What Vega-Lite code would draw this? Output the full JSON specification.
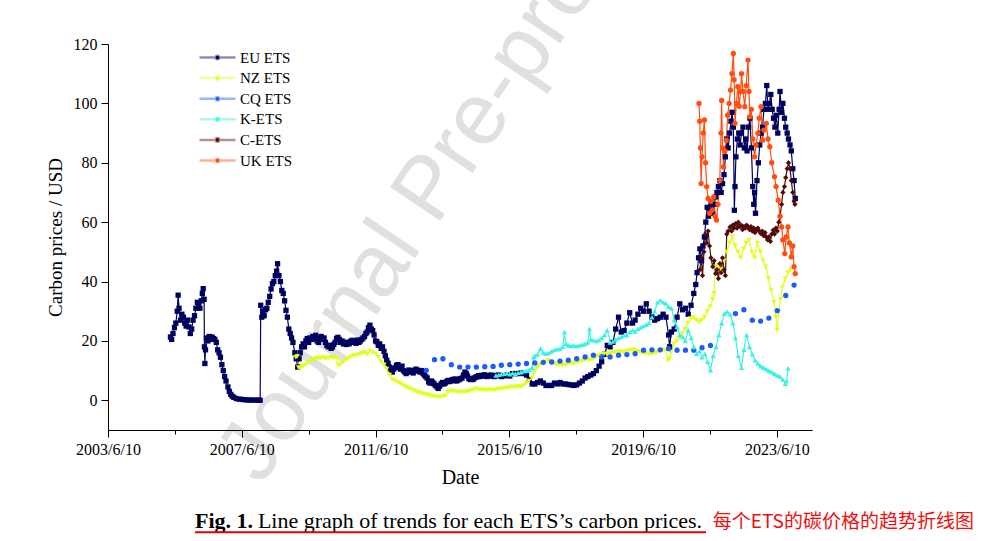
{
"$schema": "https://vega.github.io/schema/vega-lite/v6.json",
"width": 704,
"height": 386,
"autosize": {"type": "none"},
"padding": {"left": 108, "top": 44, "right": 183, "bottom": 111},
"background": "white",
"config": {"view": {"stroke": null}, "font": "Liberation Serif"},
"data": {"values": [
{"s":"EU ETS","d":"2005-04-22","v":21.3},{"s":"EU ETS","d":"2005-05-05","v":20.5},{"s":"EU ETS","d":"2005-05-20","v":22.5},{"s":"EU ETS","d":"2005-06-05","v":24.5},{"s":"EU ETS","d":"2005-06-20","v":26},{"s":"EU ETS","d":"2005-07-05","v":30},{"s":"EU ETS","d":"2005-07-15","v":35.4},{"s":"EU ETS","d":"2005-07-25","v":31},{"s":"EU ETS","d":"2005-08-10","v":27},{"s":"EU ETS","d":"2005-08-25","v":29},{"s":"EU ETS","d":"2005-09-10","v":28},{"s":"EU ETS","d":"2005-09-25","v":26},{"s":"EU ETS","d":"2005-10-10","v":25},{"s":"EU ETS","d":"2005-10-25","v":27},{"s":"EU ETS","d":"2005-11-10","v":24.7},{"s":"EU ETS","d":"2005-11-25","v":22.5},{"s":"EU ETS","d":"2005-12-10","v":24},{"s":"EU ETS","d":"2005-12-25","v":27},{"s":"EU ETS","d":"2006-01-10","v":28.5},{"s":"EU ETS","d":"2006-01-25","v":31},{"s":"EU ETS","d":"2006-02-10","v":33},{"s":"EU ETS","d":"2006-02-25","v":32},{"s":"EU ETS","d":"2006-03-10","v":31},{"s":"EU ETS","d":"2006-03-25","v":33.5},{"s":"EU ETS","d":"2006-04-05","v":36},{"s":"EU ETS","d":"2006-04-15","v":37.6},{"s":"EU ETS","d":"2006-04-25","v":34},{"s":"EU ETS","d":"2006-04-28","v":18},{"s":"EU ETS","d":"2006-05-03","v":12.4},{"s":"EU ETS","d":"2006-05-10","v":17},{"s":"EU ETS","d":"2006-05-20","v":21},{"s":"EU ETS","d":"2006-06-05","v":20},{"s":"EU ETS","d":"2006-06-20","v":21.5},{"s":"EU ETS","d":"2006-07-05","v":20.5},{"s":"EU ETS","d":"2006-07-20","v":21.3},{"s":"EU ETS","d":"2006-08-05","v":20.8},{"s":"EU ETS","d":"2006-08-20","v":20.5},{"s":"EU ETS","d":"2006-09-05","v":19.5},{"s":"EU ETS","d":"2006-09-20","v":17},{"s":"EU ETS","d":"2006-10-05","v":16},{"s":"EU ETS","d":"2006-10-20","v":14.5},{"s":"EU ETS","d":"2006-11-05","v":12},{"s":"EU ETS","d":"2006-11-20","v":10},{"s":"EU ETS","d":"2006-12-05","v":8},{"s":"EU ETS","d":"2006-12-20","v":6.5},{"s":"EU ETS","d":"2007-01-10","v":4.5},{"s":"EU ETS","d":"2007-01-25","v":3},{"s":"EU ETS","d":"2007-02-10","v":2},{"s":"EU ETS","d":"2007-02-25","v":1.4},{"s":"EU ETS","d":"2007-03-15","v":1},{"s":"EU ETS","d":"2007-04-10","v":0.6},{"s":"EU ETS","d":"2007-05-10","v":0.4},{"s":"EU ETS","d":"2007-06-10","v":0.3},{"s":"EU ETS","d":"2007-07-10","v":0.2},{"s":"EU ETS","d":"2007-08-10","v":0.1},{"s":"EU ETS","d":"2007-09-10","v":0.1},{"s":"EU ETS","d":"2007-10-10","v":0.08},{"s":"EU ETS","d":"2007-11-10","v":0.06},{"s":"EU ETS","d":"2007-12-10","v":0.05},{"s":"EU ETS","d":"2007-12-28","v":0.03},
{"s":"EU ETS","d":"2008-01-03","v":32},{"s":"EU ETS","d":"2008-01-15","v":28},{"s":"EU ETS","d":"2008-01-28","v":30},{"s":"EU ETS","d":"2008-02-10","v":28.5},{"s":"EU ETS","d":"2008-02-25","v":30.5},{"s":"EU ETS","d":"2008-03-10","v":31},{"s":"EU ETS","d":"2008-03-25","v":33},{"s":"EU ETS","d":"2008-04-10","v":35},{"s":"EU ETS","d":"2008-04-25","v":37.5},{"s":"EU ETS","d":"2008-05-10","v":39.3},{"s":"EU ETS","d":"2008-05-25","v":40},{"s":"EU ETS","d":"2008-06-10","v":42},{"s":"EU ETS","d":"2008-06-25","v":43.5},{"s":"EU ETS","d":"2008-07-05","v":46},{"s":"EU ETS","d":"2008-07-20","v":42},{"s":"EU ETS","d":"2008-08-05","v":40},{"s":"EU ETS","d":"2008-08-20","v":37},{"s":"EU ETS","d":"2008-09-05","v":36},{"s":"EU ETS","d":"2008-09-20","v":33.5},{"s":"EU ETS","d":"2008-10-05","v":30.3},{"s":"EU ETS","d":"2008-10-20","v":28},{"s":"EU ETS","d":"2008-11-05","v":24},{"s":"EU ETS","d":"2008-11-20","v":22.5},{"s":"EU ETS","d":"2008-12-05","v":21},{"s":"EU ETS","d":"2008-12-20","v":19.5},{"s":"EU ETS","d":"2009-01-10","v":16},{"s":"EU ETS","d":"2009-01-25","v":14},{"s":"EU ETS","d":"2009-02-10","v":11.2},{"s":"EU ETS","d":"2009-02-25","v":14},{"s":"EU ETS","d":"2009-03-10","v":16},{"s":"EU ETS","d":"2009-03-25","v":18},{"s":"EU ETS","d":"2009-04-10","v":19},{"s":"EU ETS","d":"2009-04-25","v":18},{"s":"EU ETS","d":"2009-05-10","v":20},{"s":"EU ETS","d":"2009-05-25","v":20.8},{"s":"EU ETS","d":"2009-06-10","v":19.5},{"s":"EU ETS","d":"2009-06-25","v":21},{"s":"EU ETS","d":"2009-07-10","v":20.5},{"s":"EU ETS","d":"2009-07-25","v":21.5},{"s":"EU ETS","d":"2009-08-10","v":20.8},{"s":"EU ETS","d":"2009-08-25","v":21.9},{"s":"EU ETS","d":"2009-09-10","v":20},{"s":"EU ETS","d":"2009-09-25","v":19.5},{"s":"EU ETS","d":"2009-10-10","v":21},{"s":"EU ETS","d":"2009-10-25","v":21.5},{"s":"EU ETS","d":"2009-11-10","v":20.5},{"s":"EU ETS","d":"2009-11-25","v":21},{"s":"EU ETS","d":"2009-12-10","v":19.5},{"s":"EU ETS","d":"2009-12-25","v":18.5},
{"s":"EU ETS","d":"2010-01-10","v":18},{"s":"EU ETS","d":"2010-01-25","v":18.5},{"s":"EU ETS","d":"2010-02-10","v":17.5},{"s":"EU ETS","d":"2010-02-25","v":18},{"s":"EU ETS","d":"2010-03-10","v":18.8},{"s":"EU ETS","d":"2010-03-25","v":19.5},{"s":"EU ETS","d":"2010-04-10","v":20.8},{"s":"EU ETS","d":"2010-04-25","v":21.2},{"s":"EU ETS","d":"2010-05-10","v":20.5},{"s":"EU ETS","d":"2010-05-25","v":19.5},{"s":"EU ETS","d":"2010-06-10","v":20},{"s":"EU ETS","d":"2010-06-25","v":19},{"s":"EU ETS","d":"2010-07-10","v":19.5},{"s":"EU ETS","d":"2010-07-25","v":18.8},{"s":"EU ETS","d":"2010-08-10","v":19.5},{"s":"EU ETS","d":"2010-08-25","v":19},{"s":"EU ETS","d":"2010-09-10","v":19.8},{"s":"EU ETS","d":"2010-09-25","v":20.2},{"s":"EU ETS","d":"2010-10-10","v":19.5},{"s":"EU ETS","d":"2010-10-25","v":20},{"s":"EU ETS","d":"2010-11-10","v":19.2},{"s":"EU ETS","d":"2010-11-25","v":20.3},{"s":"EU ETS","d":"2010-12-10","v":19.5},{"s":"EU ETS","d":"2010-12-25","v":20},{"s":"EU ETS","d":"2011-01-10","v":20.5},{"s":"EU ETS","d":"2011-01-25","v":21},{"s":"EU ETS","d":"2011-02-10","v":21.5},{"s":"EU ETS","d":"2011-02-25","v":22.5},{"s":"EU ETS","d":"2011-03-10","v":23},{"s":"EU ETS","d":"2011-03-25","v":24.5},{"s":"EU ETS","d":"2011-04-10","v":25.3},{"s":"EU ETS","d":"2011-04-25","v":24},{"s":"EU ETS","d":"2011-05-10","v":23.5},{"s":"EU ETS","d":"2011-05-25","v":22},{"s":"EU ETS","d":"2011-06-10","v":20},{"s":"EU ETS","d":"2011-06-25","v":19.7},{"s":"EU ETS","d":"2011-07-10","v":18.5},{"s":"EU ETS","d":"2011-07-25","v":19},{"s":"EU ETS","d":"2011-08-10","v":17.5},{"s":"EU ETS","d":"2011-08-25","v":18},{"s":"EU ETS","d":"2011-09-10","v":16.5},{"s":"EU ETS","d":"2011-09-25","v":15},{"s":"EU ETS","d":"2011-10-10","v":13.5},{"s":"EU ETS","d":"2011-10-25","v":12.5},{"s":"EU ETS","d":"2011-11-10","v":11.2},{"s":"EU ETS","d":"2011-11-25","v":10.5},{"s":"EU ETS","d":"2011-12-10","v":9.5},{"s":"EU ETS","d":"2011-12-25","v":10.5},
{"s":"EU ETS","d":"2012-01-10","v":11},{"s":"EU ETS","d":"2012-01-25","v":11.8},{"s":"EU ETS","d":"2012-02-10","v":12},{"s":"EU ETS","d":"2012-02-25","v":11},{"s":"EU ETS","d":"2012-03-10","v":10.5},{"s":"EU ETS","d":"2012-03-25","v":11.5},{"s":"EU ETS","d":"2012-04-10","v":10},{"s":"EU ETS","d":"2012-04-25","v":9.5},{"s":"EU ETS","d":"2012-05-10","v":9},{"s":"EU ETS","d":"2012-05-25","v":9.8},{"s":"EU ETS","d":"2012-06-10","v":10.2},{"s":"EU ETS","d":"2012-06-25","v":9.5},{"s":"EU ETS","d":"2012-07-10","v":10},{"s":"EU ETS","d":"2012-07-25","v":9.2},{"s":"EU ETS","d":"2012-08-10","v":10.1},{"s":"EU ETS","d":"2012-08-25","v":10.5},{"s":"EU ETS","d":"2012-09-10","v":9.8},{"s":"EU ETS","d":"2012-09-25","v":10.1},{"s":"EU ETS","d":"2012-10-10","v":9.5},{"s":"EU ETS","d":"2012-10-25","v":10},{"s":"EU ETS","d":"2012-11-10","v":9},{"s":"EU ETS","d":"2012-11-25","v":8.5},{"s":"EU ETS","d":"2012-12-10","v":8},{"s":"EU ETS","d":"2012-12-25","v":7.5},{"s":"EU ETS","d":"2013-01-10","v":6.2},{"s":"EU ETS","d":"2013-01-25","v":5.8},{"s":"EU ETS","d":"2013-02-10","v":6.5},{"s":"EU ETS","d":"2013-02-25","v":6},{"s":"EU ETS","d":"2013-03-10","v":5.5},{"s":"EU ETS","d":"2013-03-25","v":5},{"s":"EU ETS","d":"2013-04-10","v":4.5},{"s":"EU ETS","d":"2013-04-25","v":4},{"s":"EU ETS","d":"2013-05-10","v":4.8},{"s":"EU ETS","d":"2013-05-25","v":5.5},{"s":"EU ETS","d":"2013-06-10","v":6},{"s":"EU ETS","d":"2013-06-25","v":5.5},{"s":"EU ETS","d":"2013-07-10","v":5.8},{"s":"EU ETS","d":"2013-07-25","v":6.3},{"s":"EU ETS","d":"2013-08-10","v":6.7},{"s":"EU ETS","d":"2013-08-25","v":6.3},{"s":"EU ETS","d":"2013-09-10","v":6.5},{"s":"EU ETS","d":"2013-09-25","v":7},{"s":"EU ETS","d":"2013-10-10","v":6.7},{"s":"EU ETS","d":"2013-10-25","v":7.2},{"s":"EU ETS","d":"2013-11-10","v":6.5},{"s":"EU ETS","d":"2013-11-25","v":6.8},{"s":"EU ETS","d":"2013-12-10","v":7},{"s":"EU ETS","d":"2013-12-25","v":7.3},
{"s":"EU ETS","d":"2014-01-10","v":7.5},{"s":"EU ETS","d":"2014-01-25","v":8.5},{"s":"EU ETS","d":"2014-02-10","v":9.5},{"s":"EU ETS","d":"2014-02-25","v":9},{"s":"EU ETS","d":"2014-03-10","v":8.2},{"s":"EU ETS","d":"2014-03-25","v":7.3},{"s":"EU ETS","d":"2014-04-10","v":7},{"s":"EU ETS","d":"2014-04-25","v":7.4},{"s":"EU ETS","d":"2014-05-10","v":7},{"s":"EU ETS","d":"2014-05-25","v":7.5},{"s":"EU ETS","d":"2014-06-10","v":7.8},{"s":"EU ETS","d":"2014-06-25","v":8},{"s":"EU ETS","d":"2014-07-10","v":8.3},{"s":"EU ETS","d":"2014-07-25","v":8},{"s":"EU ETS","d":"2014-08-10","v":8.4},{"s":"EU ETS","d":"2014-08-25","v":8.2},{"s":"EU ETS","d":"2014-09-10","v":8.6},{"s":"EU ETS","d":"2014-09-25","v":8.3},{"s":"EU ETS","d":"2014-10-10","v":8},{"s":"EU ETS","d":"2014-10-25","v":8.4},{"s":"EU ETS","d":"2014-11-10","v":8.2},{"s":"EU ETS","d":"2014-11-25","v":8.5},{"s":"EU ETS","d":"2014-12-10","v":8.3},{"s":"EU ETS","d":"2014-12-25","v":8},{"s":"EU ETS","d":"2015-01-10","v":8.2},{"s":"EU ETS","d":"2015-01-25","v":8.4},{"s":"EU ETS","d":"2015-02-15","v":8.5},{"s":"EU ETS","d":"2015-03-15","v":8},{"s":"EU ETS","d":"2015-04-15","v":8.2},{"s":"EU ETS","d":"2015-05-15","v":8.5},{"s":"EU ETS","d":"2015-06-15","v":8.2},{"s":"EU ETS","d":"2015-07-15","v":9},{"s":"EU ETS","d":"2015-08-15","v":9},{"s":"EU ETS","d":"2015-09-15","v":9},{"s":"EU ETS","d":"2015-10-15","v":9.2},{"s":"EU ETS","d":"2015-11-15","v":9},{"s":"EU ETS","d":"2015-12-15","v":8.5},{"s":"EU ETS","d":"2016-01-15","v":7},{"s":"EU ETS","d":"2016-02-15","v":5.5},{"s":"EU ETS","d":"2016-03-15","v":5.5},{"s":"EU ETS","d":"2016-04-15","v":6},{"s":"EU ETS","d":"2016-05-15","v":6.5},{"s":"EU ETS","d":"2016-06-15","v":5.8},{"s":"EU ETS","d":"2016-07-15","v":5},{"s":"EU ETS","d":"2016-08-15","v":5},{"s":"EU ETS","d":"2016-09-15","v":5},{"s":"EU ETS","d":"2016-10-15","v":5.8},{"s":"EU ETS","d":"2016-11-15","v":5.5},{"s":"EU ETS","d":"2016-12-15","v":6},{"s":"EU ETS","d":"2017-01-15","v":5.5},{"s":"EU ETS","d":"2017-02-15","v":5.5},{"s":"EU ETS","d":"2017-03-15","v":5.3},{"s":"EU ETS","d":"2017-04-15","v":5.2},{"s":"EU ETS","d":"2017-05-15","v":5},{"s":"EU ETS","d":"2017-06-15","v":5.2},{"s":"EU ETS","d":"2017-07-15","v":5.8},{"s":"EU ETS","d":"2017-08-15","v":6.5},{"s":"EU ETS","d":"2017-09-15","v":7.5},{"s":"EU ETS","d":"2017-10-15","v":8},{"s":"EU ETS","d":"2017-11-15","v":8.5},{"s":"EU ETS","d":"2017-12-15","v":9},
{"s":"EU ETS","d":"2018-01-15","v":10},{"s":"EU ETS","d":"2018-02-15","v":11.5},{"s":"EU ETS","d":"2018-03-15","v":13},{"s":"EU ETS","d":"2018-04-15","v":15.5},{"s":"EU ETS","d":"2018-05-15","v":18.5},{"s":"EU ETS","d":"2018-06-15","v":18},{"s":"EU ETS","d":"2018-07-15","v":19.5},{"s":"EU ETS","d":"2018-08-15","v":24},{"s":"EU ETS","d":"2018-09-15","v":28},{"s":"EU ETS","d":"2018-10-15","v":23},{"s":"EU ETS","d":"2018-11-15","v":23.5},{"s":"EU ETS","d":"2018-12-15","v":26},{"s":"EU ETS","d":"2019-01-15","v":29.5},{"s":"EU ETS","d":"2019-02-15","v":26},{"s":"EU ETS","d":"2019-03-15","v":27},{"s":"EU ETS","d":"2019-04-15","v":29},{"s":"EU ETS","d":"2019-05-15","v":31},{"s":"EU ETS","d":"2019-06-15","v":30},{"s":"EU ETS","d":"2019-07-15","v":32.5},{"s":"EU ETS","d":"2019-08-15","v":30},{"s":"EU ETS","d":"2019-09-15","v":28},{"s":"EU ETS","d":"2019-10-15","v":27},{"s":"EU ETS","d":"2019-11-15","v":27.5},{"s":"EU ETS","d":"2019-12-15","v":28},{"s":"EU ETS","d":"2020-01-15","v":29},{"s":"EU ETS","d":"2020-02-15","v":28},{"s":"EU ETS","d":"2020-03-15","v":22},{"s":"EU ETS","d":"2020-03-25","v":18},{"s":"EU ETS","d":"2020-04-15","v":23},{"s":"EU ETS","d":"2020-05-15","v":24},{"s":"EU ETS","d":"2020-06-15","v":28},{"s":"EU ETS","d":"2020-07-15","v":32.5},{"s":"EU ETS","d":"2020-08-15","v":30.5},{"s":"EU ETS","d":"2020-09-15","v":31},{"s":"EU ETS","d":"2020-10-15","v":29},{"s":"EU ETS","d":"2020-11-15","v":32},{"s":"EU ETS","d":"2020-12-15","v":36},
{"s":"EU ETS","d":"2021-01-05","v":39},{"s":"EU ETS","d":"2021-01-20","v":43},{"s":"EU ETS","d":"2021-02-05","v":48},{"s":"EU ETS","d":"2021-02-20","v":51},{"s":"EU ETS","d":"2021-03-10","v":47},{"s":"EU ETS","d":"2021-03-25","v":52},{"s":"EU ETS","d":"2021-04-10","v":55},{"s":"EU ETS","d":"2021-04-25","v":60},{"s":"EU ETS","d":"2021-05-10","v":65},{"s":"EU ETS","d":"2021-05-25","v":62},{"s":"EU ETS","d":"2021-06-10","v":64},{"s":"EU ETS","d":"2021-06-25","v":66},{"s":"EU ETS","d":"2021-07-10","v":63},{"s":"EU ETS","d":"2021-07-25","v":66},{"s":"EU ETS","d":"2021-08-10","v":68.5},{"s":"EU ETS","d":"2021-08-25","v":70},{"s":"EU ETS","d":"2021-09-10","v":72},{"s":"EU ETS","d":"2021-09-25","v":74},{"s":"EU ETS","d":"2021-10-10","v":70},{"s":"EU ETS","d":"2021-10-25","v":73},{"s":"EU ETS","d":"2021-11-10","v":76},{"s":"EU ETS","d":"2021-11-25","v":82},{"s":"EU ETS","d":"2021-12-10","v":88},{"s":"EU ETS","d":"2021-12-25","v":85},{"s":"EU ETS","d":"2022-01-10","v":90},{"s":"EU ETS","d":"2022-01-25","v":94},{"s":"EU ETS","d":"2022-02-05","v":97},{"s":"EU ETS","d":"2022-02-20","v":92},{"s":"EU ETS","d":"2022-03-03","v":64},{"s":"EU ETS","d":"2022-03-10","v":72},{"s":"EU ETS","d":"2022-03-20","v":82},{"s":"EU ETS","d":"2022-04-05","v":88},{"s":"EU ETS","d":"2022-04-20","v":90},{"s":"EU ETS","d":"2022-05-05","v":86},{"s":"EU ETS","d":"2022-05-20","v":90},{"s":"EU ETS","d":"2022-06-05","v":92},{"s":"EU ETS","d":"2022-06-20","v":85},{"s":"EU ETS","d":"2022-07-05","v":88},{"s":"EU ETS","d":"2022-07-20","v":84},{"s":"EU ETS","d":"2022-08-05","v":92},{"s":"EU ETS","d":"2022-08-20","v":95},{"s":"EU ETS","d":"2022-09-05","v":85},{"s":"EU ETS","d":"2022-09-20","v":72},{"s":"EU ETS","d":"2022-10-01","v":66},{"s":"EU ETS","d":"2022-10-10","v":70},{"s":"EU ETS","d":"2022-10-20","v":63},{"s":"EU ETS","d":"2022-11-05","v":74},{"s":"EU ETS","d":"2022-11-20","v":80},{"s":"EU ETS","d":"2022-12-05","v":86},{"s":"EU ETS","d":"2022-12-20","v":90},{"s":"EU ETS","d":"2023-01-05","v":92},{"s":"EU ETS","d":"2023-01-20","v":98},{"s":"EU ETS","d":"2023-02-05","v":100},{"s":"EU ETS","d":"2023-02-20","v":106},{"s":"EU ETS","d":"2023-03-05","v":98},{"s":"EU ETS","d":"2023-03-20","v":100},{"s":"EU ETS","d":"2023-04-05","v":103},{"s":"EU ETS","d":"2023-04-20","v":98},{"s":"EU ETS","d":"2023-05-05","v":95},{"s":"EU ETS","d":"2023-05-20","v":92},{"s":"EU ETS","d":"2023-06-05","v":96},{"s":"EU ETS","d":"2023-06-20","v":90},{"s":"EU ETS","d":"2023-07-05","v":98},{"s":"EU ETS","d":"2023-07-15","v":104},{"s":"EU ETS","d":"2023-08-01","v":97},{"s":"EU ETS","d":"2023-08-15","v":100},{"s":"EU ETS","d":"2023-09-01","v":95},{"s":"EU ETS","d":"2023-09-15","v":92},{"s":"EU ETS","d":"2023-10-01","v":90},{"s":"EU ETS","d":"2023-10-15","v":88},{"s":"EU ETS","d":"2023-11-01","v":86},{"s":"EU ETS","d":"2023-11-15","v":84},{"s":"EU ETS","d":"2023-12-01","v":78},{"s":"EU ETS","d":"2023-12-15","v":74},{"s":"EU ETS","d":"2023-12-28","v":68},
{"s":"NZ ETS","d":"2009-01-20","v":14.5},{"s":"NZ ETS","d":"2009-02-05","v":14.8},{"s":"NZ ETS","d":"2009-02-20","v":11},{"s":"NZ ETS","d":"2009-03-10","v":10.8},{"s":"NZ ETS","d":"2009-04-10","v":11.5},{"s":"NZ ETS","d":"2009-05-10","v":12},{"s":"NZ ETS","d":"2009-06-10","v":12.8},{"s":"NZ ETS","d":"2009-07-10","v":13.5},{"s":"NZ ETS","d":"2009-08-10","v":14},{"s":"NZ ETS","d":"2009-09-10","v":14.2},{"s":"NZ ETS","d":"2009-10-10","v":14},{"s":"NZ ETS","d":"2009-11-10","v":14.4},{"s":"NZ ETS","d":"2009-12-10","v":14},{"s":"NZ ETS","d":"2010-01-10","v":14.2},{"s":"NZ ETS","d":"2010-02-10","v":14.5},{"s":"NZ ETS","d":"2010-03-10","v":14.3},{"s":"NZ ETS","d":"2010-04-10","v":14.2},{"s":"NZ ETS","d":"2010-04-25","v":12},{"s":"NZ ETS","d":"2010-05-10","v":11.8},{"s":"NZ ETS","d":"2010-06-10","v":12.5},{"s":"NZ ETS","d":"2010-07-10","v":13.5},{"s":"NZ ETS","d":"2010-08-10","v":14},{"s":"NZ ETS","d":"2010-09-10","v":14.6},{"s":"NZ ETS","d":"2010-10-10","v":15},{"s":"NZ ETS","d":"2010-11-10","v":15.2},{"s":"NZ ETS","d":"2010-12-10","v":15.5},{"s":"NZ ETS","d":"2011-01-10","v":15.8},{"s":"NZ ETS","d":"2011-02-10","v":16.2},{"s":"NZ ETS","d":"2011-03-10","v":15.5},{"s":"NZ ETS","d":"2011-04-10","v":16.5},{"s":"NZ ETS","d":"2011-05-10","v":16},{"s":"NZ ETS","d":"2011-06-10","v":15.7},{"s":"NZ ETS","d":"2011-07-10","v":14.5},{"s":"NZ ETS","d":"2011-08-10","v":13},{"s":"NZ ETS","d":"2011-09-10","v":12},{"s":"NZ ETS","d":"2011-10-10","v":10.5},{"s":"NZ ETS","d":"2011-11-10","v":8.5},{"s":"NZ ETS","d":"2011-12-10","v":7},{"s":"NZ ETS","d":"2012-01-10","v":6.5},{"s":"NZ ETS","d":"2012-02-10","v":6},{"s":"NZ ETS","d":"2012-03-10","v":5.6},{"s":"NZ ETS","d":"2012-04-10","v":5},{"s":"NZ ETS","d":"2012-05-10","v":4.5},{"s":"NZ ETS","d":"2012-06-10","v":4},{"s":"NZ ETS","d":"2012-07-10","v":3.6},{"s":"NZ ETS","d":"2012-08-10","v":3.2},{"s":"NZ ETS","d":"2012-09-10","v":2.8},{"s":"NZ ETS","d":"2012-10-10","v":2.5},{"s":"NZ ETS","d":"2012-11-10","v":2.2},{"s":"NZ ETS","d":"2012-12-10","v":2},{"s":"NZ ETS","d":"2013-01-10","v":1.8},{"s":"NZ ETS","d":"2013-02-10","v":1.5},{"s":"NZ ETS","d":"2013-03-10","v":1.3},{"s":"NZ ETS","d":"2013-04-10","v":1.2},{"s":"NZ ETS","d":"2013-05-10","v":1.1},{"s":"NZ ETS","d":"2013-06-10","v":1.3},{"s":"NZ ETS","d":"2013-07-10","v":1.5},{"s":"NZ ETS","d":"2013-08-10","v":2.8},{"s":"NZ ETS","d":"2013-09-10","v":3.3},{"s":"NZ ETS","d":"2013-10-10","v":3},{"s":"NZ ETS","d":"2013-11-10","v":2.8},{"s":"NZ ETS","d":"2013-12-10","v":2.9},{"s":"NZ ETS","d":"2014-01-10","v":2.7},{"s":"NZ ETS","d":"2014-02-10","v":2.8},{"s":"NZ ETS","d":"2014-03-10","v":3},{"s":"NZ ETS","d":"2014-04-10","v":3.2},{"s":"NZ ETS","d":"2014-05-10","v":3.5},{"s":"NZ ETS","d":"2014-06-10","v":3.9},{"s":"NZ ETS","d":"2014-07-10","v":3.5},{"s":"NZ ETS","d":"2014-08-10","v":3.6},{"s":"NZ ETS","d":"2014-09-10","v":3.4},{"s":"NZ ETS","d":"2014-10-10","v":3.5},{"s":"NZ ETS","d":"2014-11-10","v":3.6},{"s":"NZ ETS","d":"2014-12-10","v":3.4},{"s":"NZ ETS","d":"2015-01-10","v":3.5},{"s":"NZ ETS","d":"2015-02-10","v":3.8},{"s":"NZ ETS","d":"2015-03-10","v":3.9},{"s":"NZ ETS","d":"2015-04-10","v":4},{"s":"NZ ETS","d":"2015-05-10","v":4.1},{"s":"NZ ETS","d":"2015-06-10","v":4.3},{"s":"NZ ETS","d":"2015-07-10","v":4.6},{"s":"NZ ETS","d":"2015-08-10","v":4.4},{"s":"NZ ETS","d":"2015-09-10","v":4.7},{"s":"NZ ETS","d":"2015-10-10","v":4.5},{"s":"NZ ETS","d":"2015-11-10","v":5},{"s":"NZ ETS","d":"2015-12-10","v":5.8},{"s":"NZ ETS","d":"2016-01-10","v":6.5},{"s":"NZ ETS","d":"2016-02-10","v":7.5},{"s":"NZ ETS","d":"2016-03-10","v":9.5},{"s":"NZ ETS","d":"2016-04-10","v":11.2},{"s":"NZ ETS","d":"2016-05-10","v":12},{"s":"NZ ETS","d":"2016-06-10","v":12.5},{"s":"NZ ETS","d":"2016-07-10","v":13},{"s":"NZ ETS","d":"2016-08-10","v":13.5},{"s":"NZ ETS","d":"2016-09-10","v":13},{"s":"NZ ETS","d":"2016-10-10","v":12.5},{"s":"NZ ETS","d":"2016-11-10","v":12},{"s":"NZ ETS","d":"2016-12-10","v":12},{"s":"NZ ETS","d":"2017-01-10","v":11.8},{"s":"NZ ETS","d":"2017-02-10","v":12},{"s":"NZ ETS","d":"2017-03-10","v":12.3},{"s":"NZ ETS","d":"2017-04-10","v":12.5},{"s":"NZ ETS","d":"2017-05-10","v":12.2},{"s":"NZ ETS","d":"2017-06-10","v":12.8},{"s":"NZ ETS","d":"2017-07-10","v":13},{"s":"NZ ETS","d":"2017-08-10","v":13.2},{"s":"NZ ETS","d":"2017-09-10","v":13.5},{"s":"NZ ETS","d":"2017-10-10","v":13.8},{"s":"NZ ETS","d":"2017-11-10","v":13.5},{"s":"NZ ETS","d":"2017-12-10","v":14},{"s":"NZ ETS","d":"2018-01-10","v":14.5},{"s":"NZ ETS","d":"2018-02-10","v":15},{"s":"NZ ETS","d":"2018-03-10","v":15.3},{"s":"NZ ETS","d":"2018-04-10","v":15.7},{"s":"NZ ETS","d":"2018-05-10","v":15.5},{"s":"NZ ETS","d":"2018-06-10","v":15.8},{"s":"NZ ETS","d":"2018-07-10","v":16},{"s":"NZ ETS","d":"2018-08-10","v":16.2},{"s":"NZ ETS","d":"2018-09-10","v":16.3},{"s":"NZ ETS","d":"2018-10-10","v":16.5},{"s":"NZ ETS","d":"2018-11-10","v":16.2},{"s":"NZ ETS","d":"2018-12-10","v":16.5},{"s":"NZ ETS","d":"2019-01-10","v":16.8},{"s":"NZ ETS","d":"2019-02-10","v":17},{"s":"NZ ETS","d":"2019-03-10","v":16.9},{"s":"NZ ETS","d":"2019-04-10","v":16.5},{"s":"NZ ETS","d":"2019-05-10","v":16.2},{"s":"NZ ETS","d":"2019-06-10","v":16},{"s":"NZ ETS","d":"2019-07-10","v":15.8},{"s":"NZ ETS","d":"2019-08-10","v":15.6},{"s":"NZ ETS","d":"2019-09-10","v":15.7},{"s":"NZ ETS","d":"2019-10-10","v":15.9},{"s":"NZ ETS","d":"2019-11-10","v":16.2},{"s":"NZ ETS","d":"2019-12-10","v":16.5},{"s":"NZ ETS","d":"2020-01-10","v":17},{"s":"NZ ETS","d":"2020-02-10","v":16.8},{"s":"NZ ETS","d":"2020-03-10","v":13.5},{"s":"NZ ETS","d":"2020-03-25","v":14},{"s":"NZ ETS","d":"2020-04-10","v":16},{"s":"NZ ETS","d":"2020-05-10","v":19},{"s":"NZ ETS","d":"2020-06-10","v":20},{"s":"NZ ETS","d":"2020-07-10","v":21},{"s":"NZ ETS","d":"2020-08-10","v":22.5},{"s":"NZ ETS","d":"2020-09-10","v":24},{"s":"NZ ETS","d":"2020-10-10","v":26},{"s":"NZ ETS","d":"2020-11-10","v":27.5},{"s":"NZ ETS","d":"2020-12-10","v":28},{"s":"NZ ETS","d":"2021-01-10","v":27},{"s":"NZ ETS","d":"2021-02-10","v":26.5},{"s":"NZ ETS","d":"2021-03-10","v":27},{"s":"NZ ETS","d":"2021-04-10","v":28},{"s":"NZ ETS","d":"2021-05-10","v":30},{"s":"NZ ETS","d":"2021-06-10","v":31.5},{"s":"NZ ETS","d":"2021-07-10","v":34},{"s":"NZ ETS","d":"2021-07-25","v":36},{"s":"NZ ETS","d":"2021-08-05","v":45},{"s":"NZ ETS","d":"2021-08-20","v":44},{"s":"NZ ETS","d":"2021-09-10","v":45},{"s":"NZ ETS","d":"2021-10-10","v":44},{"s":"NZ ETS","d":"2021-11-10","v":47},{"s":"NZ ETS","d":"2021-12-10","v":50},{"s":"NZ ETS","d":"2022-01-10","v":53},{"s":"NZ ETS","d":"2022-02-10","v":55},{"s":"NZ ETS","d":"2022-03-10","v":52},{"s":"NZ ETS","d":"2022-04-10","v":50},{"s":"NZ ETS","d":"2022-05-10","v":48},{"s":"NZ ETS","d":"2022-06-10","v":51},{"s":"NZ ETS","d":"2022-07-10","v":53},{"s":"NZ ETS","d":"2022-08-10","v":54},{"s":"NZ ETS","d":"2022-09-10","v":50},{"s":"NZ ETS","d":"2022-10-10","v":48},{"s":"NZ ETS","d":"2022-11-10","v":53},{"s":"NZ ETS","d":"2022-12-10","v":50},{"s":"NZ ETS","d":"2023-01-10","v":47},{"s":"NZ ETS","d":"2023-02-10","v":45},{"s":"NZ ETS","d":"2023-03-10","v":41},{"s":"NZ ETS","d":"2023-04-10","v":37},{"s":"NZ ETS","d":"2023-05-10","v":33},{"s":"NZ ETS","d":"2023-06-01","v":28},{"s":"NZ ETS","d":"2023-06-15","v":23.6},{"s":"NZ ETS","d":"2023-07-01","v":30},{"s":"NZ ETS","d":"2023-07-20","v":34},{"s":"NZ ETS","d":"2023-08-10","v":38},{"s":"NZ ETS","d":"2023-09-10","v":41},{"s":"NZ ETS","d":"2023-10-10","v":43},{"s":"NZ ETS","d":"2023-11-10","v":44},
{"s":"CQ ETS","d":"2012-12-15","v":10.1},{"s":"CQ ETS","d":"2013-03-15","v":13.7},{"s":"CQ ETS","d":"2013-06-15","v":14},{"s":"CQ ETS","d":"2013-09-15","v":12},{"s":"CQ ETS","d":"2013-12-15","v":11.2},{"s":"CQ ETS","d":"2014-03-15","v":11.2},{"s":"CQ ETS","d":"2014-06-15","v":11.2},{"s":"CQ ETS","d":"2014-09-15","v":11.3},{"s":"CQ ETS","d":"2014-12-15","v":11.4},{"s":"CQ ETS","d":"2015-03-15","v":11.8},{"s":"CQ ETS","d":"2015-06-15","v":12},{"s":"CQ ETS","d":"2015-09-15","v":12.2},{"s":"CQ ETS","d":"2015-12-15","v":12.4},{"s":"CQ ETS","d":"2016-03-15","v":12.6},{"s":"CQ ETS","d":"2016-06-15","v":12.8},{"s":"CQ ETS","d":"2016-09-15","v":12.9},{"s":"CQ ETS","d":"2016-12-15","v":13.2},{"s":"CQ ETS","d":"2017-03-15","v":13.5},{"s":"CQ ETS","d":"2017-06-15","v":14},{"s":"CQ ETS","d":"2017-09-15","v":14.6},{"s":"CQ ETS","d":"2017-12-15","v":15.2},{"s":"CQ ETS","d":"2018-03-15","v":14.6},{"s":"CQ ETS","d":"2018-06-15","v":14.6},{"s":"CQ ETS","d":"2018-09-15","v":15.2},{"s":"CQ ETS","d":"2018-12-15","v":15.4},{"s":"CQ ETS","d":"2019-03-15","v":15.7},{"s":"CQ ETS","d":"2019-06-15","v":16.9},{"s":"CQ ETS","d":"2019-09-15","v":17},{"s":"CQ ETS","d":"2019-12-15","v":17},{"s":"CQ ETS","d":"2020-03-15","v":17.4},{"s":"CQ ETS","d":"2020-06-15","v":16.9},{"s":"CQ ETS","d":"2020-09-15","v":16.9},{"s":"CQ ETS","d":"2020-12-15","v":16.9},{"s":"CQ ETS","d":"2021-03-15","v":17.7},{"s":"CQ ETS","d":"2021-06-15","v":18.5},{"s":"CQ ETS","d":"2022-03-15","v":29.2},{"s":"CQ ETS","d":"2022-06-15","v":30.5},{"s":"CQ ETS","d":"2022-09-15","v":27},{"s":"CQ ETS","d":"2022-12-15","v":26.7},{"s":"CQ ETS","d":"2023-03-15","v":27.7},{"s":"CQ ETS","d":"2023-06-15","v":30.2},{"s":"CQ ETS","d":"2023-09-15","v":35.3},{"s":"CQ ETS","d":"2023-12-15","v":38.8},
{"s":"K-ETS","d":"2015-01-15","v":8.4},{"s":"K-ETS","d":"2015-02-15","v":8.6},{"s":"K-ETS","d":"2015-03-15","v":8.8},{"s":"K-ETS","d":"2015-04-15","v":9},{"s":"K-ETS","d":"2015-05-15","v":9.1},{"s":"K-ETS","d":"2015-06-15","v":8.8},{"s":"K-ETS","d":"2015-07-15","v":9.2},{"s":"K-ETS","d":"2015-08-15","v":9},{"s":"K-ETS","d":"2015-09-15","v":9.3},{"s":"K-ETS","d":"2015-10-15","v":9.5},{"s":"K-ETS","d":"2015-11-15","v":9.8},{"s":"K-ETS","d":"2015-12-15","v":10},{"s":"K-ETS","d":"2016-01-15","v":10.3},{"s":"K-ETS","d":"2016-02-15","v":11},{"s":"K-ETS","d":"2016-03-01","v":14.6},{"s":"K-ETS","d":"2016-03-15","v":15},{"s":"K-ETS","d":"2016-04-15","v":15.5},{"s":"K-ETS","d":"2016-05-15","v":17.4},{"s":"K-ETS","d":"2016-06-15","v":16},{"s":"K-ETS","d":"2016-07-15","v":15.7},{"s":"K-ETS","d":"2016-08-15","v":16},{"s":"K-ETS","d":"2016-09-15","v":16.5},{"s":"K-ETS","d":"2016-10-15","v":17},{"s":"K-ETS","d":"2016-11-15","v":17.2},{"s":"K-ETS","d":"2016-12-15","v":17.4},{"s":"K-ETS","d":"2017-01-15","v":18},{"s":"K-ETS","d":"2017-02-01","v":23},{"s":"K-ETS","d":"2017-02-15","v":19},{"s":"K-ETS","d":"2017-03-15","v":18.5},{"s":"K-ETS","d":"2017-04-15","v":18.4},{"s":"K-ETS","d":"2017-05-15","v":18.5},{"s":"K-ETS","d":"2017-06-15","v":18.3},{"s":"K-ETS","d":"2017-07-15","v":18.5},{"s":"K-ETS","d":"2017-08-15","v":18.7},{"s":"K-ETS","d":"2017-09-15","v":19},{"s":"K-ETS","d":"2017-10-15","v":19.5},{"s":"K-ETS","d":"2017-11-01","v":24},{"s":"K-ETS","d":"2017-11-15","v":20.5},{"s":"K-ETS","d":"2017-12-15","v":20.2},{"s":"K-ETS","d":"2018-01-15","v":20},{"s":"K-ETS","d":"2018-02-15","v":20.3},{"s":"K-ETS","d":"2018-03-15","v":21},{"s":"K-ETS","d":"2018-04-15","v":22},{"s":"K-ETS","d":"2018-05-15","v":23.6},{"s":"K-ETS","d":"2018-06-15","v":19.5},{"s":"K-ETS","d":"2018-07-15","v":19.8},{"s":"K-ETS","d":"2018-08-15","v":20.5},{"s":"K-ETS","d":"2018-09-15","v":21},{"s":"K-ETS","d":"2018-10-15","v":21.3},{"s":"K-ETS","d":"2018-11-15","v":21.8},{"s":"K-ETS","d":"2018-12-15","v":22},{"s":"K-ETS","d":"2019-01-15","v":23},{"s":"K-ETS","d":"2019-02-15","v":23.6},{"s":"K-ETS","d":"2019-03-15","v":23.2},{"s":"K-ETS","d":"2019-04-15","v":24},{"s":"K-ETS","d":"2019-05-15","v":24.5},{"s":"K-ETS","d":"2019-06-15","v":25},{"s":"K-ETS","d":"2019-07-15","v":25.5},{"s":"K-ETS","d":"2019-08-15","v":26},{"s":"K-ETS","d":"2019-09-15","v":28},{"s":"K-ETS","d":"2019-10-15","v":30},{"s":"K-ETS","d":"2019-11-15","v":33},{"s":"K-ETS","d":"2019-12-15","v":33.7},{"s":"K-ETS","d":"2020-01-15","v":33},{"s":"K-ETS","d":"2020-02-15","v":32.6},{"s":"K-ETS","d":"2020-03-15","v":31.5},{"s":"K-ETS","d":"2020-04-15","v":31},{"s":"K-ETS","d":"2020-05-15","v":27},{"s":"K-ETS","d":"2020-06-15","v":24.7},{"s":"K-ETS","d":"2020-07-15","v":22},{"s":"K-ETS","d":"2020-08-15","v":21.3},{"s":"K-ETS","d":"2020-09-15","v":20},{"s":"K-ETS","d":"2020-10-15","v":23.6},{"s":"K-ETS","d":"2020-11-15","v":21},{"s":"K-ETS","d":"2020-12-15","v":18},{"s":"K-ETS","d":"2021-01-15","v":15.7},{"s":"K-ETS","d":"2021-02-15","v":16.5},{"s":"K-ETS","d":"2021-03-15","v":14.5},{"s":"K-ETS","d":"2021-04-15","v":15.7},{"s":"K-ETS","d":"2021-05-15","v":13},{"s":"K-ETS","d":"2021-06-15","v":10.1},{"s":"K-ETS","d":"2021-07-15","v":15},{"s":"K-ETS","d":"2021-08-15","v":18},{"s":"K-ETS","d":"2021-09-15","v":22},{"s":"K-ETS","d":"2021-10-15","v":26},{"s":"K-ETS","d":"2021-11-15","v":29.2},{"s":"K-ETS","d":"2021-12-15","v":29.8},{"s":"K-ETS","d":"2022-01-15","v":29},{"s":"K-ETS","d":"2022-02-15","v":26},{"s":"K-ETS","d":"2022-03-15","v":21},{"s":"K-ETS","d":"2022-04-15","v":15},{"s":"K-ETS","d":"2022-05-20","v":11},{"s":"K-ETS","d":"2022-06-15","v":17},{"s":"K-ETS","d":"2022-07-15","v":22},{"s":"K-ETS","d":"2022-08-15","v":18},{"s":"K-ETS","d":"2022-09-15","v":15.5},{"s":"K-ETS","d":"2022-10-15","v":13.5},{"s":"K-ETS","d":"2022-11-15","v":12.4},{"s":"K-ETS","d":"2022-12-15","v":11.5},{"s":"K-ETS","d":"2023-01-15","v":11},{"s":"K-ETS","d":"2023-02-15","v":10.5},{"s":"K-ETS","d":"2023-03-15","v":10},{"s":"K-ETS","d":"2023-04-15","v":9.5},{"s":"K-ETS","d":"2023-05-15","v":9},{"s":"K-ETS","d":"2023-06-15","v":8.4},{"s":"K-ETS","d":"2023-07-15","v":8},{"s":"K-ETS","d":"2023-08-15","v":7},{"s":"K-ETS","d":"2023-09-10","v":5.6},{"s":"K-ETS","d":"2023-09-25","v":6.5},{"s":"K-ETS","d":"2023-10-10","v":10.8},
{"s":"C-ETS","d":"2021-02-20","v":44},{"s":"C-ETS","d":"2021-03-05","v":48},{"s":"C-ETS","d":"2021-03-20","v":42},{"s":"C-ETS","d":"2021-04-05","v":50},{"s":"C-ETS","d":"2021-04-20","v":56},{"s":"C-ETS","d":"2021-05-05","v":53},{"s":"C-ETS","d":"2021-05-20","v":57},{"s":"C-ETS","d":"2021-06-05","v":52},{"s":"C-ETS","d":"2021-06-20","v":48},{"s":"C-ETS","d":"2021-07-10","v":45},{"s":"C-ETS","d":"2021-07-25","v":47},{"s":"C-ETS","d":"2021-08-10","v":42.7},{"s":"C-ETS","d":"2021-08-25","v":44},{"s":"C-ETS","d":"2021-09-10","v":41},{"s":"C-ETS","d":"2021-09-25","v":46},{"s":"C-ETS","d":"2021-10-10","v":43},{"s":"C-ETS","d":"2021-10-25","v":48},{"s":"C-ETS","d":"2021-11-10","v":44},{"s":"C-ETS","d":"2021-11-25","v":42},{"s":"C-ETS","d":"2021-12-10","v":56},{"s":"C-ETS","d":"2021-12-25","v":57},{"s":"C-ETS","d":"2022-01-15","v":58.4},{"s":"C-ETS","d":"2022-02-01","v":57},{"s":"C-ETS","d":"2022-02-15","v":59},{"s":"C-ETS","d":"2022-03-01","v":58},{"s":"C-ETS","d":"2022-03-15","v":59.5},{"s":"C-ETS","d":"2022-04-01","v":58},{"s":"C-ETS","d":"2022-04-15","v":60},{"s":"C-ETS","d":"2022-05-01","v":58.5},{"s":"C-ETS","d":"2022-05-15","v":59},{"s":"C-ETS","d":"2022-06-01","v":57.5},{"s":"C-ETS","d":"2022-06-15","v":58.5},{"s":"C-ETS","d":"2022-07-01","v":58},{"s":"C-ETS","d":"2022-07-15","v":59},{"s":"C-ETS","d":"2022-08-01","v":58.4},{"s":"C-ETS","d":"2022-08-15","v":57.5},{"s":"C-ETS","d":"2022-09-01","v":58.5},{"s":"C-ETS","d":"2022-09-15","v":57},{"s":"C-ETS","d":"2022-10-01","v":58},{"s":"C-ETS","d":"2022-10-15","v":56.5},{"s":"C-ETS","d":"2022-11-01","v":57.5},{"s":"C-ETS","d":"2022-11-15","v":58},{"s":"C-ETS","d":"2022-12-01","v":57},{"s":"C-ETS","d":"2022-12-15","v":56.2},{"s":"C-ETS","d":"2023-01-01","v":57},{"s":"C-ETS","d":"2023-01-15","v":55.5},{"s":"C-ETS","d":"2023-02-01","v":56.5},{"s":"C-ETS","d":"2023-02-15","v":55},{"s":"C-ETS","d":"2023-03-01","v":54},{"s":"C-ETS","d":"2023-03-15","v":55},{"s":"C-ETS","d":"2023-04-01","v":53.5},{"s":"C-ETS","d":"2023-04-15","v":56},{"s":"C-ETS","d":"2023-05-01","v":57.3},{"s":"C-ETS","d":"2023-05-15","v":56},{"s":"C-ETS","d":"2023-06-01","v":58},{"s":"C-ETS","d":"2023-06-15","v":57},{"s":"C-ETS","d":"2023-07-01","v":60},{"s":"C-ETS","d":"2023-07-15","v":62},{"s":"C-ETS","d":"2023-08-01","v":66},{"s":"C-ETS","d":"2023-08-15","v":70},{"s":"C-ETS","d":"2023-09-01","v":72},{"s":"C-ETS","d":"2023-09-15","v":75},{"s":"C-ETS","d":"2023-10-01","v":78},{"s":"C-ETS","d":"2023-10-15","v":80},{"s":"C-ETS","d":"2023-11-01","v":78},{"s":"C-ETS","d":"2023-11-15","v":74},{"s":"C-ETS","d":"2023-12-01","v":70},{"s":"C-ETS","d":"2023-12-15","v":67},{"s":"C-ETS","d":"2023-12-25","v":66},
{"s":"UK ETS","d":"2021-02-10","v":100},{"s":"UK ETS","d":"2021-02-18","v":94},{"s":"UK ETS","d":"2021-02-25","v":85},{"s":"UK ETS","d":"2021-03-05","v":73},{"s":"UK ETS","d":"2021-03-15","v":82},{"s":"UK ETS","d":"2021-03-28","v":90},{"s":"UK ETS","d":"2021-04-10","v":94.4},{"s":"UK ETS","d":"2021-04-22","v":80},{"s":"UK ETS","d":"2021-05-05","v":72},{"s":"UK ETS","d":"2021-05-20","v":68},{"s":"UK ETS","d":"2021-06-05","v":63},{"s":"UK ETS","d":"2021-06-20","v":67},{"s":"UK ETS","d":"2021-07-05","v":64},{"s":"UK ETS","d":"2021-07-20","v":68.5},{"s":"UK ETS","d":"2021-08-05","v":62},{"s":"UK ETS","d":"2021-08-20","v":60.7},{"s":"UK ETS","d":"2021-09-05","v":66},{"s":"UK ETS","d":"2021-09-25","v":74},{"s":"UK ETS","d":"2021-10-08","v":90},{"s":"UK ETS","d":"2021-10-15","v":101},{"s":"UK ETS","d":"2021-10-25","v":85},{"s":"UK ETS","d":"2021-11-05","v":78.6},{"s":"UK ETS","d":"2021-11-20","v":84},{"s":"UK ETS","d":"2021-12-05","v":87.6},{"s":"UK ETS","d":"2021-12-20","v":96},{"s":"UK ETS","d":"2022-01-05","v":100},{"s":"UK ETS","d":"2022-01-20","v":104.5},{"s":"UK ETS","d":"2022-02-05","v":110},{"s":"UK ETS","d":"2022-02-20","v":116.8},{"s":"UK ETS","d":"2022-03-01","v":108},{"s":"UK ETS","d":"2022-03-10","v":93.3},{"s":"UK ETS","d":"2022-03-25","v":100},{"s":"UK ETS","d":"2022-04-10","v":105.6},{"s":"UK ETS","d":"2022-04-25","v":99},{"s":"UK ETS","d":"2022-05-10","v":104},{"s":"UK ETS","d":"2022-05-20","v":110},{"s":"UK ETS","d":"2022-06-05","v":104},{"s":"UK ETS","d":"2022-06-25","v":98.9},{"s":"UK ETS","d":"2022-07-10","v":106},{"s":"UK ETS","d":"2022-07-30","v":114.6},{"s":"UK ETS","d":"2022-08-10","v":104},{"s":"UK ETS","d":"2022-08-20","v":95.5},{"s":"UK ETS","d":"2022-09-05","v":98},{"s":"UK ETS","d":"2022-09-20","v":88},{"s":"UK ETS","d":"2022-10-10","v":82},{"s":"UK ETS","d":"2022-10-25","v":86},{"s":"UK ETS","d":"2022-11-15","v":89.9},{"s":"UK ETS","d":"2022-11-30","v":95},{"s":"UK ETS","d":"2022-12-20","v":98.9},{"s":"UK ETS","d":"2023-01-05","v":87.6},{"s":"UK ETS","d":"2023-01-20","v":91},{"s":"UK ETS","d":"2023-02-15","v":93.3},{"s":"UK ETS","d":"2023-03-05","v":88},{"s":"UK ETS","d":"2023-03-25","v":85.4},{"s":"UK ETS","d":"2023-04-15","v":80},{"s":"UK ETS","d":"2023-05-15","v":75.3},{"s":"UK ETS","d":"2023-06-01","v":72},{"s":"UK ETS","d":"2023-06-25","v":67.4},{"s":"UK ETS","d":"2023-07-15","v":62},{"s":"UK ETS","d":"2023-08-01","v":58.4},{"s":"UK ETS","d":"2023-08-15","v":54},{"s":"UK ETS","d":"2023-09-05","v":49.4},{"s":"UK ETS","d":"2023-09-20","v":55},{"s":"UK ETS","d":"2023-10-10","v":58.4},{"s":"UK ETS","d":"2023-10-25","v":53},{"s":"UK ETS","d":"2023-11-15","v":48.3},{"s":"UK ETS","d":"2023-11-30","v":52},{"s":"UK ETS","d":"2023-12-15","v":45},{"s":"UK ETS","d":"2023-12-28","v":42.7}
]},
"layer": [
{
"data": {"values": [{}]},
"mark": {"type": "text", "text": "Journal Pre-proof", "angle": -56, "font": "Liberation Sans", "fontSize": 88, "color": "#e0e0e0", "align": "center", "baseline": "alphabetic"},
"encoding": {
"x": {"datum": {"year": 2013, "month": 9, "date": 15, "utc": true}, "type": "temporal", "scale": {"type": "utc", "domain": [{"year": 2003, "month": 6, "date": 10, "utc": true}, {"year": 2024, "month": 6, "date": 28, "utc": true}]}},
"y": {"datum": 66, "type": "quantitative", "scale": {"domain": [-10, 120], "nice": false, "zero": false}}
}
},
{
"transform": [{"filter": "datum.s !== 'CQ ETS'"}],
"mark": {"type": "line", "strokeWidth": 1.2, "interpolate": "linear"},
"encoding": {
"x": {"field": "d", "type": "temporal", "scale": {"type": "utc", "domain": [{"year": 2003, "month": 6, "date": 10, "utc": true}, {"year": 2024, "month": 6, "date": 28, "utc": true}]},
"axis": {"values": [{"year": 2003, "month": 6, "date": 10, "utc": true}, {"year": 2005, "month": 6, "date": 10, "utc": true}, {"year": 2007, "month": 6, "date": 10, "utc": true}, {"year": 2009, "month": 6, "date": 10, "utc": true}, {"year": 2011, "month": 6, "date": 10, "utc": true}, {"year": 2013, "month": 6, "date": 10, "utc": true}, {"year": 2015, "month": 6, "date": 10, "utc": true}, {"year": 2017, "month": 6, "date": 10, "utc": true}, {"year": 2019, "month": 6, "date": 10, "utc": true}, {"year": 2021, "month": 6, "date": 10, "utc": true}, {"year": 2023, "month": 6, "date": 10, "utc": true}],
"labelExpr": "utcyear(datum.value) % 4 === 3 ? utcFormat(datum.value, '%Y/%-m/%-d') : ''",
"tickSize": {"condition": {"test": "utcyear(datum.value) % 4 === 3", "value": 7}, "value": 4},
"grid": false, "domainColor": "black", "tickColor": "black", "domainWidth": 1, "tickWidth": 1,
"labelFont": "Liberation Serif", "labelFontSize": 16, "labelColor": "black", "labelPadding": 4, "labelFlush": false, "labelOverlap": false,
"title": "Date", "titleFont": "Liberation Serif", "titleFontSize": 20, "titleFontWeight": "normal", "titleColor": "black", "titlePadding": 10, "zindex": 1}},
"y": {"field": "v", "type": "quantitative", "scale": {"domain": [-10, 120], "nice": false, "zero": false},
"axis": {"values": [0, 10, 20, 30, 40, 50, 60, 70, 80, 90, 100, 110, 120],
"labelExpr": "datum.value % 20 === 0 ? datum.label : ''",
"tickSize": {"condition": {"test": "datum.value % 20 === 0", "value": 7}, "value": 4},
"grid": false, "domainColor": "black", "tickColor": "black", "domainWidth": 1, "tickWidth": 1,
"labelFont": "Liberation Serif", "labelFontSize": 16, "labelColor": "black", "labelPadding": 4,
"title": "Carbon prices / USD", "titleFont": "Liberation Serif", "titleFontSize": 19, "titleFontWeight": "normal", "titleColor": "black", "titlePadding": 8, "zindex": 1}},
"color": {"field": "s", "type": "nominal",
"scale": {"domain": ["EU ETS", "NZ ETS", "CQ ETS", "K-ETS", "C-ETS", "UK ETS"], "range": ["#00005e", "#e2ff1c", "#1a5cff", "#3cf2e2", "#520a0a", "#ff4e10"]},
"legend": {"orient": "none", "legendX": 102, "legendY": 6, "title": null, "padding": 0,
"symbolType": "M-3,0L3,0M-0.3,0A0.3,0.3,0,1,0,0.3,0A0.3,0.3,0,1,0,-0.3,0Z", "symbolSize": 144, "symbolStrokeWidth": 2.5,
"labelFont": "Liberation Serif", "labelFontSize": 15, "labelColor": "black", "labelOffset": 15, "rowPadding": 4.6,
"encode": {"symbols": {"update": {"fill": {"scale": "color", "field": "value"}, "fillOpacity": {"value": 1}, "strokeOpacity": {"value": 0.45}}}}}}
}
},
{
"mark": {"type": "point", "filled": true, "size": 28, "opacity": 1, "strokeWidth": 0},
"encoding": {
"x": {"field": "d", "type": "temporal", "scale": {"type": "utc", "domain": [{"year": 2003, "month": 6, "date": 10, "utc": true}, {"year": 2024, "month": 6, "date": 28, "utc": true}]}},
"y": {"field": "v", "type": "quantitative", "scale": {"domain": [-10, 120], "nice": false, "zero": false}},
"fill": {"field": "s", "type": "nominal", "scale": {"domain": ["C-ETS", "CQ ETS", "EU ETS", "K-ETS", "NZ ETS", "UK ETS"], "range": ["#520a0a", "#1a5cff", "#00005e", "#3cf2e2", "#e2ff1c", "#ff4e10"]}, "legend": null},
"shape": {"field": "s", "type": "nominal", "scale": {"domain": ["UK ETS", "NZ ETS", "K-ETS", "EU ETS", "CQ ETS", "C-ETS"], "range": ["circle", "triangle-down", "triangle-up", "square", "circle", "diamond"]}, "legend": null}
}
},
{
"data": {"values": [{}]},
"mark": {"type": "text", "text": "Fig. 1.", "font": "Liberation Serif", "fontSize": 22, "fontWeight": "bold", "color": "black", "align": "left", "baseline": "alphabetic"},
"encoding": {
"x": {"datum": {"year": 2006, "month": 1, "date": 15, "utc": true}, "type": "temporal"},
"y": {"datum": -42.9, "type": "quantitative"}
}
},
{
"data": {"values": [{}]},
"mark": {"type": "text", "text": "Line graph of trends for each ETS’s carbon prices.", "font": "Liberation Serif", "fontSize": 22, "color": "black", "align": "left", "baseline": "alphabetic"},
"encoding": {
"x": {"datum": {"year": 2007, "month": 12, "date": 3, "utc": true}, "type": "temporal"},
"y": {"datum": -42.9, "type": "quantitative"}
}
},
{
"data": {"values": [{}]},
"mark": {"type": "text", "text": "每个ETS的碳价格的趋势折线图", "font": "Noto Sans CJK SC", "fontSize": 19, "color": "#f01010", "align": "left", "baseline": "alphabetic"},
"encoding": {
"x": {"datum": {"year": 2021, "month": 7, "date": 11, "utc": true}, "type": "temporal"},
"y": {"datum": -42.9, "type": "quantitative"}
}
},
{
"data": {"values": [{}]},
"mark": {"type": "rule", "color": "#e00000", "strokeWidth": 2},
"encoding": {
"x": {"datum": {"year": 2006, "month": 1, "date": 15, "utc": true}, "type": "temporal"},
"x2": {"datum": {"year": 2021, "month": 4, "date": 27, "utc": true}},
"y": {"datum": -44.4, "type": "quantitative"}
}
}
]
}
